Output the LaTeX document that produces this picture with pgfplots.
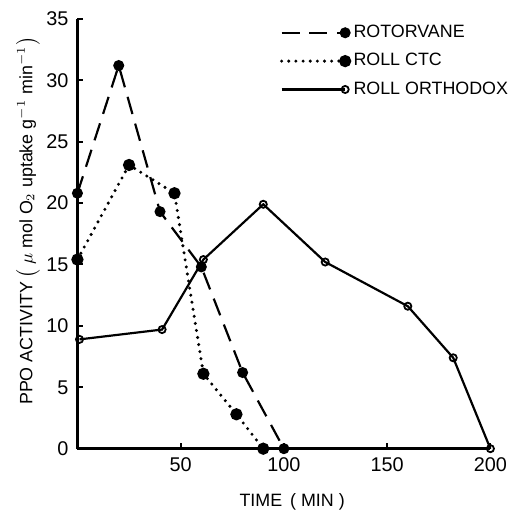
\documentclass[border=0pt]{standalone}
\usepackage{pgfplots}
\pgfplotsset{compat=1.18}
\usepackage{fontspec}
\setmainfont{Liberation Sans}
\usetikzlibrary{plotmarks}
\begin{document}
\begin{tikzpicture}
\begin{axis}[
  scale only axis,
  width=208pt, height=216.5pt,
  xmin=0, xmax=200, ymin=0, ymax=35,
  axis lines=left,
  axis line style={line width=1.3pt, -},
  xtick={50,100,150,200},
  ytick={0,5,10,15,20,25,30,35},
  tick align=inside,
  major tick length=3pt,
  tick style={line width=1pt, black},
  tick label style={font=\fontsize{10}{12}\selectfont},
  /pgf/number format/assume math mode=true,
  xticklabel style={yshift=-1pt},
  yticklabel style={xshift=-1pt},
  clip=false,
  xlabel={TIME\, ( MIN )},
  ylabel={PPO ACTIVITY\,\big( $\mu$ mol O$_2$ uptake g$^{-1}$ min$^{-1}$\big)},
  label style={font=\fontsize{9}{11}\selectfont},
  xlabel style={at={(axis description cs:0.52,0)}, anchor=north, yshift=-19pt},
  ylabel style={at={(axis description cs:-0.074,0.53)}, anchor=south},
  legend style={draw=none, fill=none, at={(axis description cs:0.475,1.005)}, anchor=north west,
    font=\fontsize{9}{11}\selectfont, row sep=2.5pt},
  legend cell align=left,
  legend image code/.code={\draw[#1, mark repeat=2, mark phase=2] plot coordinates {(0pt,0pt) (32pt,0pt)};},
]
\addplot[black, line width=1.1pt, dash pattern=on 9pt off 5pt, mark=*, mark size=2.2pt, mark options={solid}]
  coordinates {(0,20.8) (20,31.2) (40,19.3) (60,14.8) (80,6.2) (100,0)};
\addlegendentry{ROTORVANE}
\addplot[black, line width=1.7pt, dash pattern=on 0pt off 3.6pt, line cap=round, mark=*, mark size=2.2pt, mark options={solid}]
  coordinates {(0,15.4) (25,23.1) (47,20.8) (61,6.1) (77,2.8) (90,0)};
\addlegendentry{ROLL CTC}
\addplot[black, line width=1.1pt, mark=o, mark size=1.8pt, mark options={solid, fill=white, line width=0.9pt}]
  coordinates {(1,8.9) (41,9.7) (61,15.4) (90,19.9) (120,15.2) (160,11.6) (182,7.4) (200,0)};
\addlegendentry{ROLL ORTHODOX}
\end{axis}
\path ([xshift=-39pt]current axis.south west);
\path ([yshift=-33pt]current axis.south west);
\path ([yshift=9.5pt]current axis.north west);
\end{tikzpicture}
\end{document}
